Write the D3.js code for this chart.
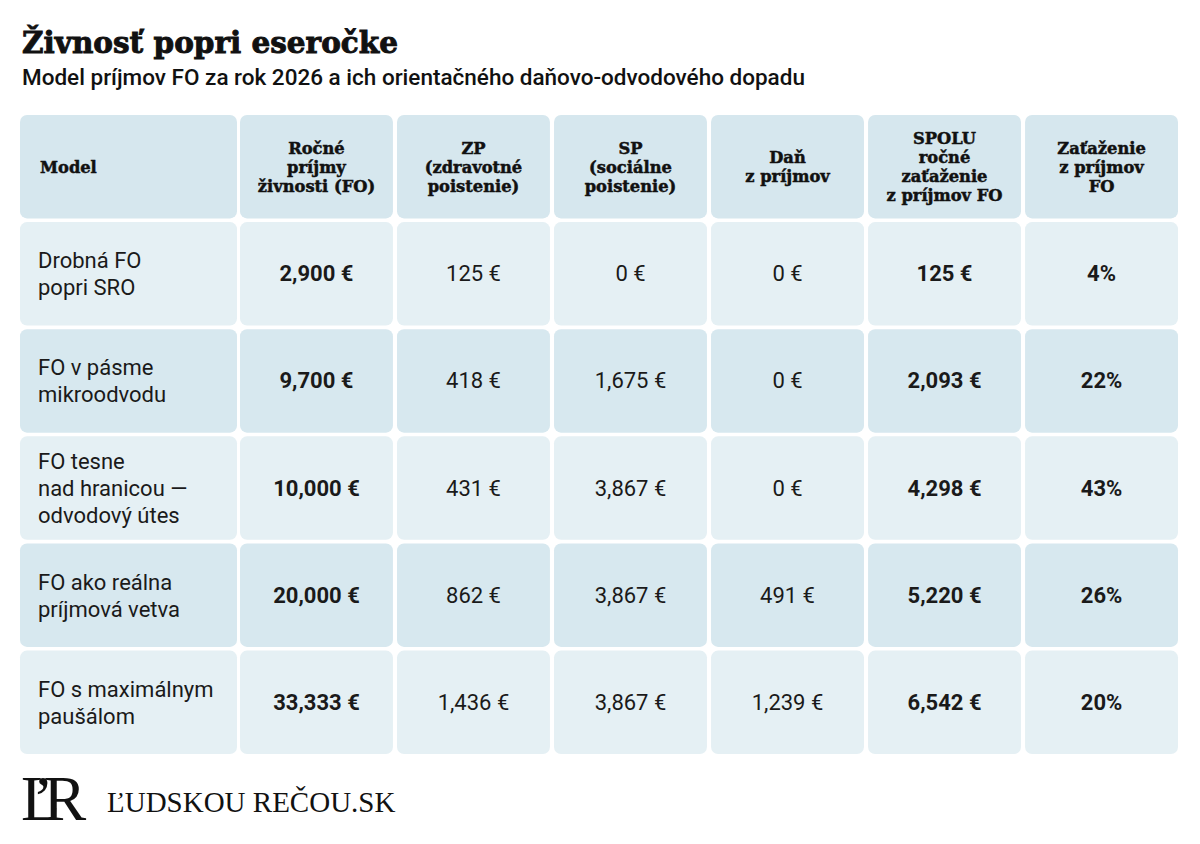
<!DOCTYPE html>
<html><head><meta charset="utf-8">
<script src="https://cdn.jsdelivr.net/npm/d3@7"></script>
<style>
html,body{margin:0;padding:0;background:#fff;}
svg{display:block;}
</style></head>
<body>
<svg id="chart" width="1200" height="844"></svg>
<script>
// ---- data ----
const title = "Živnosť popri eseročke";
const subtitle = "Model príjmov FO za rok 2026 a ich orientačného daňovo-odvodového dopadu";
const headers = [
  ["Model"],
  ["Ročné", "príjmy", "živnosti (FO)"],
  ["ZP", "(zdravotné", "poistenie)"],
  ["SP", "(sociálne", "poistenie)"],
  ["Daň", "z príjmov"],
  ["SPOLU", "ročné", "zaťaženie", "z príjmov FO"],
  ["Zaťaženie", "z príjmov", "FO"]
];
const models = [
  ["Drobná FO", "popri SRO"],
  ["FO v pásme", "mikroodvodu"],
  ["FO tesne", "nad hranicou —", "odvodový útes"],
  ["FO ako reálna", "príjmová vetva"],
  ["FO s maximálnym", "paušálom"]
];
const income = [2900, 9700, 10000, 20000, 33333];
const zp = [125, 418, 431, 862, 1436];
const sp = [0, 1675, 3867, 3867, 3867];
const tax = [0, 0, 0, 491, 1239];
const total = [125, 2093, 4298, 5220, 6542];
const share = [4, 22, 43, 26, 20];
const brand = "ĽUDSKOU REČOU.SK";

// ---- layout ----
const svg = d3.select("#chart");
const fmt = d3.format(",");
const eur = v => fmt(v) + " €";
const pct = v => v + "%";

const numCols = [
  {vals: income, f: eur, bold: true},
  {vals: zp, f: eur, bold: false},
  {vals: sp, f: eur, bold: false},
  {vals: tax, f: eur, bold: false},
  {vals: total, f: eur, bold: true},
  {vals: share, f: pct, bold: true}
];

const rowKeys = d3.range(models.length + 1);
const y = d3.scaleBand().domain(rowKeys).range([115, 754]).paddingInner(0.035).paddingOuter(0);
const xNum = d3.scaleBand().domain(d3.range(numCols.length)).range([240, 1178]).paddingInner(0.026).paddingOuter(0);
const col0 = {x: 20, w: 217};
const colX = i => i === 0 ? col0.x : xNum(i - 1);
const colW = i => i === 0 ? col0.w : xNum.bandwidth();

const headFill = "#d6e7ee";
const lightFill = "#e5f0f4";
const darkFill = "#d7e8ef";
const rowFill = r => r === 0 ? headFill : (r % 2 === 1 ? lightFill : darkFill);

// title
svg.append("text").attr("x", 22).attr("y", 53)
  .attr("font-family", "DejaVu Serif").attr("font-weight", "bold").attr("font-size", 29.5)
  .attr("fill", "#111").attr("stroke", "#111").attr("stroke-width", 0.9)
  .text(title);
svg.append("text").attr("x", 22).attr("y", 85)
  .attr("font-family", "Roboto").attr("font-weight", 500).attr("font-size", 22.5)
  .attr("fill", "#111").text(subtitle);

// cells
const cells = [];
rowKeys.forEach(r => {
  for (let c = 0; c < 7; c++) cells.push({r, c});
});
svg.append("g").selectAll("rect").data(cells).join("rect")
  .attr("x", d => colX(d.c)).attr("y", d => y(d.r))
  .attr("width", d => colW(d.c)).attr("height", y.bandwidth())
  .attr("rx", 7).attr("ry", 7)
  .attr("fill", d => rowFill(d.r));

// header text
const hg = svg.append("g");
headers.forEach((lines, c) => {
  const lh = 19;
  const cy = y(0) + y.bandwidth() / 2;
  const y0 = cy - (lines.length - 1) * lh / 2;
  const t = hg.append("text")
    .attr("font-family", "DejaVu Serif").attr("font-weight", "bold").attr("font-size", 16.3)
    .attr("fill", "#111").attr("stroke", "#111").attr("stroke-width", 0.5)
    .attr("text-anchor", c === 0 ? "start" : "middle")
    .attr("dominant-baseline", "central");
  lines.forEach((l, i) => {
    t.append("tspan")
      .attr("x", c === 0 ? colX(0) + 20 : colX(c) + colW(c) / 2)
      .attr("y", y0 + i * lh).text(l);
  });
});

// model names
const bg = svg.append("g");
models.forEach((lines, i) => {
  const r = i + 1;
  const lh = 27;
  const cy = y(r) + y.bandwidth() / 2;
  const y0 = cy - (lines.length - 1) * lh / 2;
  const t = bg.append("text")
    .attr("font-family", "Roboto").attr("font-size", 22)
    .attr("fill", "#1a1a1a").attr("dominant-baseline", "central");
  lines.forEach((l, k) => {
    t.append("tspan").attr("x", colX(0) + 18).attr("y", y0 + k * lh).text(l);
  });
});

// numbers
numCols.forEach((col, ci) => {
  bg.selectAll(null).data(col.vals).join("text")
    .attr("x", xNum(ci) + xNum.bandwidth() / 2)
    .attr("y", (d, i) => y(i + 1) + y.bandwidth() / 2)
    .attr("text-anchor", "middle").attr("dominant-baseline", "central")
    .attr("font-family", "Roboto").attr("font-size", 22)
    .attr("font-weight", col.bold ? "bold" : "normal")
    .attr("fill", "#1a1a1a")
    .text(d => col.f(d));
});

// logo
const lg = svg.append("g").attr("font-family", "Liberation Serif").attr("fill", "#111");
const mono = lg.append("text").attr("x", 21).attr("y", 820).attr("font-size", 64);
mono.append("tspan").text("L");
mono.append("tspan").attr("dx", -22).text("’");
mono.append("tspan").attr("dx", -10).text("R");
lg.append("text").attr("x", 107).attr("y", 812).attr("font-size", 29).text(brand);
</script>
</body></html>
